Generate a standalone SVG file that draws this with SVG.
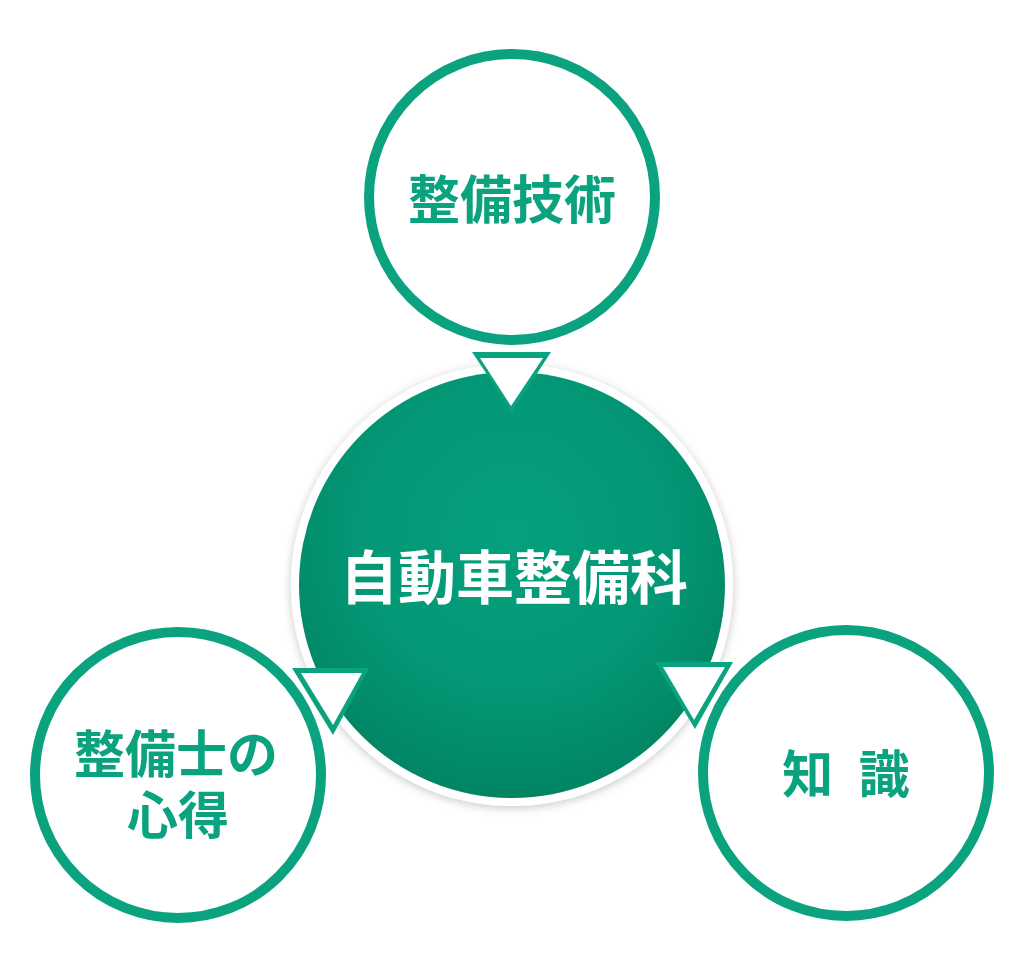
<svg xmlns="http://www.w3.org/2000/svg" width="1024" height="975" viewBox="0 0 1024 975">
<style>
.ring{fill:#ffffff;stroke:#0ba37f;stroke-width:10}
.lbl{font-family:"Noto Sans CJK JP","Noto Sans CJK SC",sans-serif;font-weight:700;fill:#0ba37f;text-anchor:middle}
.main{font-family:"Noto Sans CJK JP","Noto Sans CJK SC",sans-serif;font-weight:700;fill:#ffffff;text-anchor:middle}
.triO{fill:#0ba37f}
.triI{fill:#ffffff}
</style>
<defs>
<radialGradient id="cg" cx="50%" cy="38%" r="62%">
<stop offset="0%" stop-color="#05a07d"/>
<stop offset="60%" stop-color="#039775"/>
<stop offset="100%" stop-color="#028463"/>
</radialGradient>
<filter id="sh" x="-20%" y="-20%" width="140%" height="140%">
<feDropShadow dx="0" dy="2" stdDeviation="5" flood-color="#000000" flood-opacity="0.22"/>
</filter>
</defs>
<rect width="1024" height="975" fill="#ffffff"/>
<g id="node-gijutsu">
<circle class="ring" cx="512" cy="197" r="143"/>
<text class="lbl" x="512" y="219" font-size="52">整備技術</text>
</g>
<g id="node-kokoroe">
<circle class="ring" cx="178" cy="775" r="143"/>
<text class="lbl" font-size="51"><tspan x="176" y="773">整備士の</tspan><tspan x="178" y="834">心得</tspan></text>
</g>
<g id="node-chishiki">
<circle class="ring" cx="846" cy="773" r="143"/>
<text class="lbl" x="846" y="793" font-size="51" xml:space="preserve" word-spacing="14">知 識</text>
</g>
<g id="node-center">
<circle cx="512" cy="585" r="221" fill="#ffffff" filter="url(#sh)"/>
<circle cx="512" cy="585" r="213" fill="url(#cg)"/>
<text class="main" x="514" y="599" font-size="58">自動車整備科</text>
</g>
<g id="connectors">
<polygon class="triO" points="472,352 551,352 512,412"/>
<polygon class="triI" points="480,358 543,358 511,406"/>
<polygon class="triO" points="292,668 369,668 333,735"/>
<polygon class="triI" points="301,673 362,673 333,725"/>
<polygon class="triO" points="655,662 733,662 695,729"/>
<polygon class="triI" points="663,667 725,667 694,720"/>
</g>
</svg>
